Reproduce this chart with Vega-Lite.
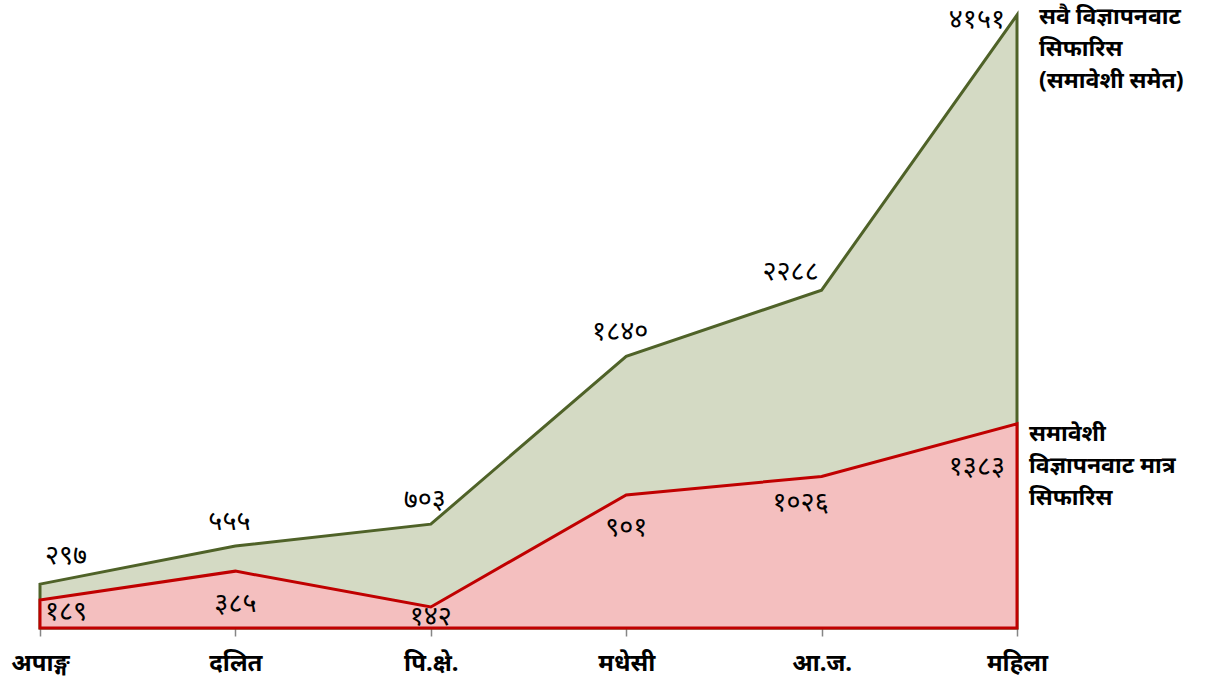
{
  "$schema": "https://vega.github.io/schema/vega-lite/v6.json",
  "width": 977,
  "height": 613,
  "autosize": {"type": "none"},
  "padding": {"left": 40, "top": 15, "right": 195, "bottom": 60},
  "background": "white",
  "config": {
    "view": {"stroke": null},
    "font": "Noto Sans",
    "text": {"font": "Noto Sans", "fontSize": 27, "color": "black", "baseline": "middle"}
  },
  "data": {
    "values": [
      {"cat": "अपाङ्ग", "total": 297, "total_label": "२९७", "incl": 189, "incl_label": "१८९"},
      {"cat": "दलित", "total": 555, "total_label": "५५५", "incl": 385, "incl_label": "३८५"},
      {"cat": "पि.क्षे.", "total": 703, "total_label": "७०३", "incl": 142, "incl_label": "१४२"},
      {"cat": "मधेसी", "total": 1840, "total_label": "१८४०", "incl": 901, "incl_label": "९०१"},
      {"cat": "आ.ज.", "total": 2288, "total_label": "२२८८", "incl": 1026, "incl_label": "१०२६"},
      {"cat": "महिला", "total": 4151, "total_label": "४१५१", "incl": 1383, "incl_label": "१३८३",
       "total_name": ["सवै विज्ञापनवाट", "सिफारिस", "(समावेशी समेत)"],
       "incl_name": ["समावेशी", "विज्ञापनवाट मात्र", "सिफारिस"]}
    ]
  },
  "encoding": {
    "x": {
      "field": "cat", "type": "ordinal", "sort": null,
      "scale": {"type": "point", "padding": 0},
      "axis": {
        "title": null, "labelAngle": 0,
        "domainColor": "#868686", "domainWidth": 1.5,
        "tickColor": "#868686", "tickSize": 8, "tickWidth": 1.5,
        "labelFont": "Noto Sans", "labelFontSize": 24, "labelFontWeight": "bold",
        "labelColor": "black", "labelPadding": 15
      }
    }
  },
  "layer": [
    {
      "mark": {"type": "area", "color": "#d4dac4", "stroke": "#4f6228", "strokeWidth": 3, "strokeJoin": "miter"},
      "encoding": {
        "y": {"field": "total", "type": "quantitative", "scale": {"domain": [0, 4151], "nice": false, "zero": true}, "axis": null}
      }
    },
    {
      "mark": {"type": "area", "color": "#f4bfbf", "stroke": "#c00000", "strokeWidth": 3, "strokeJoin": "miter"},
      "encoding": {"y": {"field": "incl", "type": "quantitative"}}
    },
    {
      "transform": [{"filter": "datum.cat === 'अपाङ्ग'"}],
      "mark": {"type": "text", "align": "left", "dx": 5, "dy": -28},
      "encoding": {"y": {"field": "total", "type": "quantitative"}, "text": {"field": "total_label"}}
    },
    {
      "transform": [{"filter": {"field": "cat", "oneOf": ["दलित", "पि.क्षे.", "मधेसी"]}}],
      "mark": {"type": "text", "align": "center", "dx": -6, "dy": -24},
      "encoding": {"y": {"field": "total", "type": "quantitative"}, "text": {"field": "total_label"}}
    },
    {
      "transform": [{"filter": "datum.cat === 'आ.ज.'"}],
      "mark": {"type": "text", "align": "center", "dx": -31, "dy": -18},
      "encoding": {"y": {"field": "total", "type": "quantitative"}, "text": {"field": "total_label"}}
    },
    {
      "transform": [{"filter": "datum.cat === 'महिला'"}],
      "mark": {"type": "text", "align": "right", "dx": -12, "dy": 5},
      "encoding": {"y": {"field": "total", "type": "quantitative"}, "text": {"field": "total_label"}}
    },
    {
      "transform": [{"filter": "datum.cat === 'अपाङ्ग'"}],
      "mark": {"type": "text", "align": "left", "dx": 5, "dy": 12},
      "encoding": {"y": {"field": "incl", "type": "quantitative"}, "text": {"field": "incl_label"}}
    },
    {
      "transform": [{"filter": {"field": "cat", "oneOf": ["दलित", "मधेसी"]}}],
      "mark": {"type": "text", "align": "center", "dx": 0, "dy": 33},
      "encoding": {"y": {"field": "incl", "type": "quantitative"}, "text": {"field": "incl_label"}}
    },
    {
      "transform": [{"filter": "datum.cat === 'पि.क्षे.'"}],
      "mark": {"type": "text", "align": "center", "dx": 0, "dy": 10},
      "encoding": {"y": {"field": "incl", "type": "quantitative"}, "text": {"field": "incl_label"}}
    },
    {
      "transform": [{"filter": "datum.cat === 'आ.ज.'"}],
      "mark": {"type": "text", "align": "center", "dx": -21, "dy": 27},
      "encoding": {"y": {"field": "incl", "type": "quantitative"}, "text": {"field": "incl_label"}}
    },
    {
      "transform": [{"filter": "datum.cat === 'महिला'"}],
      "mark": {"type": "text", "align": "right", "dx": -12, "dy": 43},
      "encoding": {"y": {"field": "incl", "type": "quantitative"}, "text": {"field": "incl_label"}}
    },
    {
      "transform": [{"filter": "datum.cat === 'महिला'"}],
      "mark": {"type": "text", "align": "left", "baseline": "top", "dx": 22, "dy": -9, "fontSize": 23, "fontWeight": "bold", "lineHeight": 32},
      "encoding": {"y": {"field": "total", "type": "quantitative"}, "text": {"field": "total_name"}}
    },
    {
      "transform": [{"filter": "datum.cat === 'महिला'"}],
      "mark": {"type": "text", "align": "left", "baseline": "top", "dx": 12, "dy": -1, "fontSize": 23, "fontWeight": "bold", "lineHeight": 32},
      "encoding": {"y": {"field": "incl", "type": "quantitative"}, "text": {"field": "incl_name"}}
    }
  ]
}
